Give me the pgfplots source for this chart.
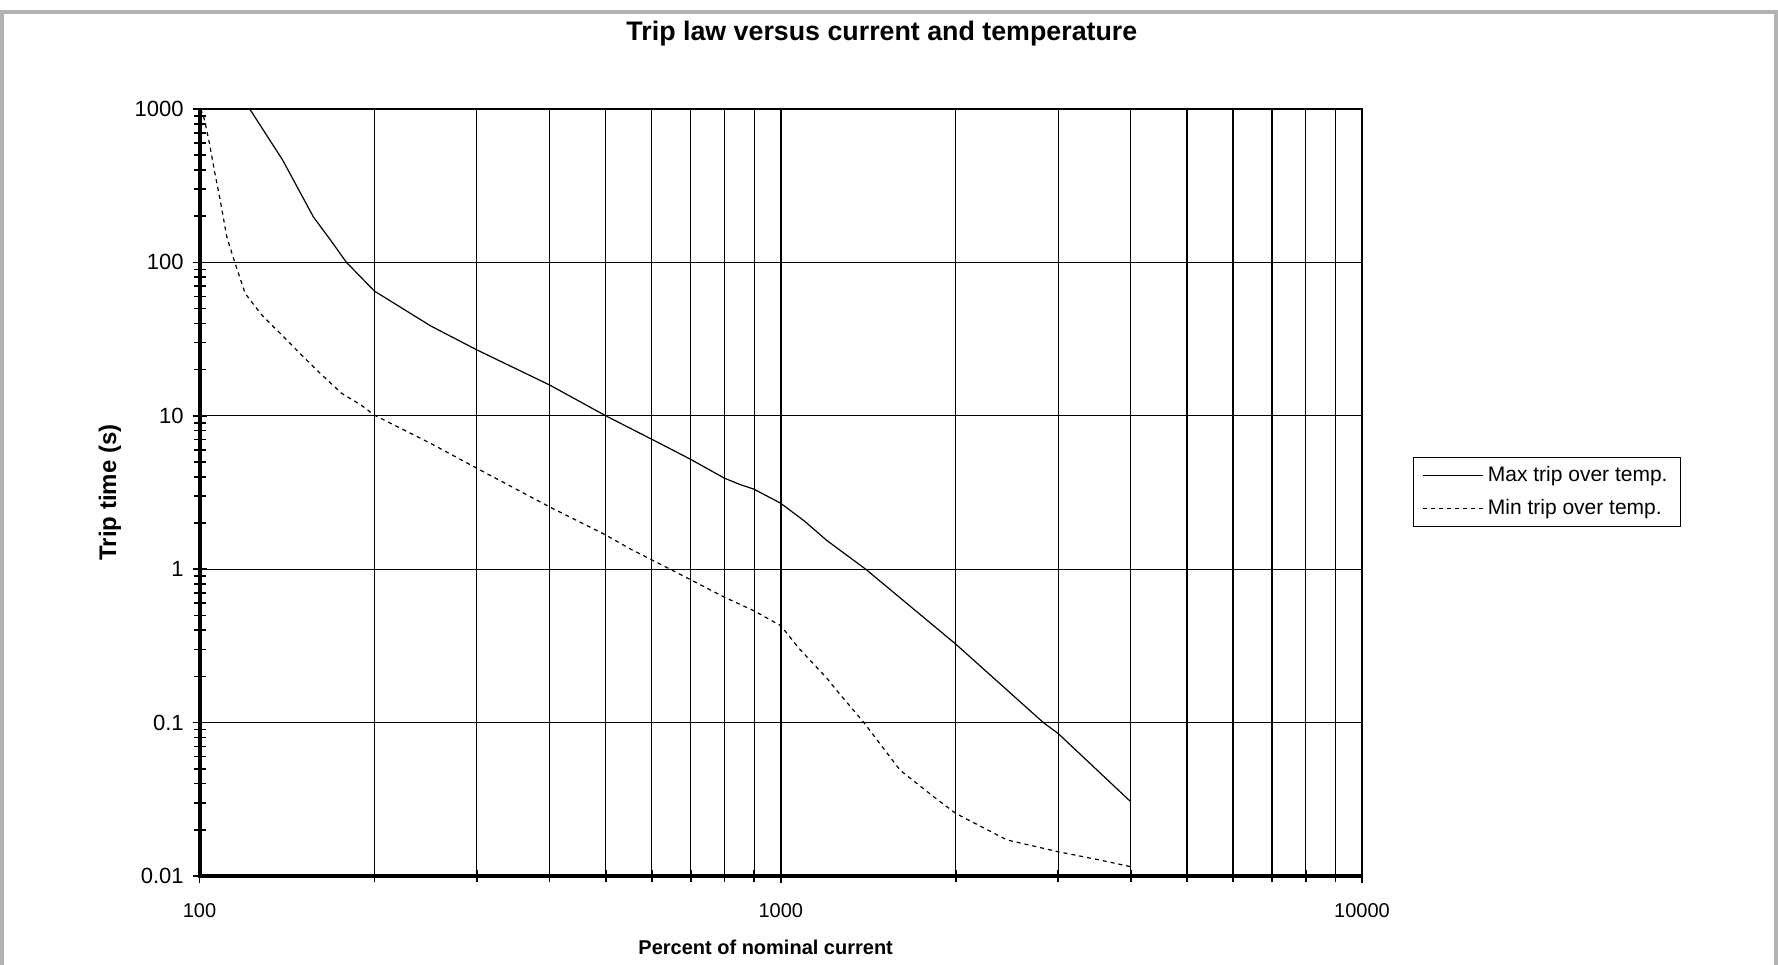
\documentclass[border=0pt]{standalone}
\usepackage{pgfplots}
\pgfplotsset{compat=1.18}
\usepackage{fontspec}
\setmainfont{Liberation Sans}
\pgfplotstableread{
x y
122 1000
139 465
157 198
168 140
179 100
200 65
250 38.5
300 26.9
400 15.9
500 10
600 7.03
700 5.2
800 3.92
850 3.57
900 3.32
1000 2.69
1100 2.05
1200 1.54
1400 1.0
2000 0.325
2830 0.1
3000 0.085
4000 0.0305
}\maxtrip
\pgfplotstableread{
x y
100.5 1000
102 850
104 600
106.3 380
108.5 257
111.4 147
115 100
119.8 62.8
128 45.4
138.5 33.7
149.8 24.9
162.3 18.5
175.7 14.0
190 11.7
200 10.1
250 6.6
300 4.55
400 2.55
500 1.67
550 1.36
600 1.15
652 0.98
700 0.853
800 0.657
900 0.535
1000 0.428
1079 0.3
1200 0.195
1240 0.167
1390 0.1
1604 0.049
1830 0.033
2000 0.0256
2448 0.0172
3000 0.0144
3544 0.0127
4000 0.0115
}\mintrip
\begin{document}
\begin{tikzpicture}
\useasboundingbox[fill=white] (-99.75pt,-44pt) rectangle (789.25pt,438pt);
\draw[gray!60, line width=2pt] (-98.75pt,-60pt) -- (-98.75pt,432pt) -- (788.25pt,432pt) -- (788.25pt,-60pt);
\begin{axis}[
  at={(0,0)}, anchor=south west,
  scale only axis, width=581.25pt, height=383.5pt,
  xmode=log, ymode=log,
  xmin=100, xmax=10000, ymin=0.01, ymax=1000,
  clip=false,
  xtick={100,1000,10000}, xticklabels={100,1000,10000},
  ytick={0.01,0.1,1,10,100,1000}, yticklabels={0.01,0.1,1,10,100,1000},
  /pgf/number format/assume math mode=true,
  xmajorgrids, xminorgrids, ymajorgrids,
  major x grid style={black, line width=1.2pt},
  minor x grid style={black, line width=0.6pt},
  major y grid style={black, line width=0.6pt},
  axis line style={black, line width=0.8pt},
  tick style={black, line width=0.8pt},
  tick pos=left,
  tick align=center, major tick length=7pt, minor tick length=6pt,
  xticklabel style={font=\fontsize{10}{12}\selectfont, yshift=-6.6pt},
  yticklabel style={font=\fontsize{11}{13}\selectfont, xshift=-0.9pt},
  title={Trip law versus current and temperature},
  title style={at={(axis description cs:0.587,1)}, yshift=31.5pt, anchor=center, font=\bfseries\fontsize{13.4}{15}\selectfont},
  xlabel={Percent of nominal current},
  xlabel style={at={(axis description cs:0.487,-0.0926)}, anchor=center, font=\bfseries\fontsize{10}{12}\selectfont},
  ylabel={Trip time (s)},
  ylabel style={at={(axis description cs:-0.077,0.5)}, anchor=center, rotate=0, font=\bfseries\fontsize{12}{14}\selectfont},
  legend style={at={(axis description cs:1.0439,0.5463)}, anchor=north west, draw=black, line width=0.6pt,
    font=\fontsize{10.5}{12.5}\selectfont, inner xsep=4.5pt, inner ysep=2.3pt, row sep=3.5pt, cells={anchor=west}},
  legend image code/.code={\draw[#1] (0pt,0pt) -- (30pt,0pt);},
]
\addplot[black, line width=0.6pt] table[x=x,y=y] {\maxtrip};
\addlegendentry{Max trip over temp.}
\addplot[black, line width=0.6pt, dash pattern=on 2pt off 2pt] table[x=x,y=y] {\mintrip};
\addlegendentry{Min trip over temp.}
\draw[black, line width=2pt] (rel axis cs:0,1) -- (rel axis cs:0,0) -- (rel axis cs:1,0);
\end{axis}
\end{tikzpicture}
\end{document}
